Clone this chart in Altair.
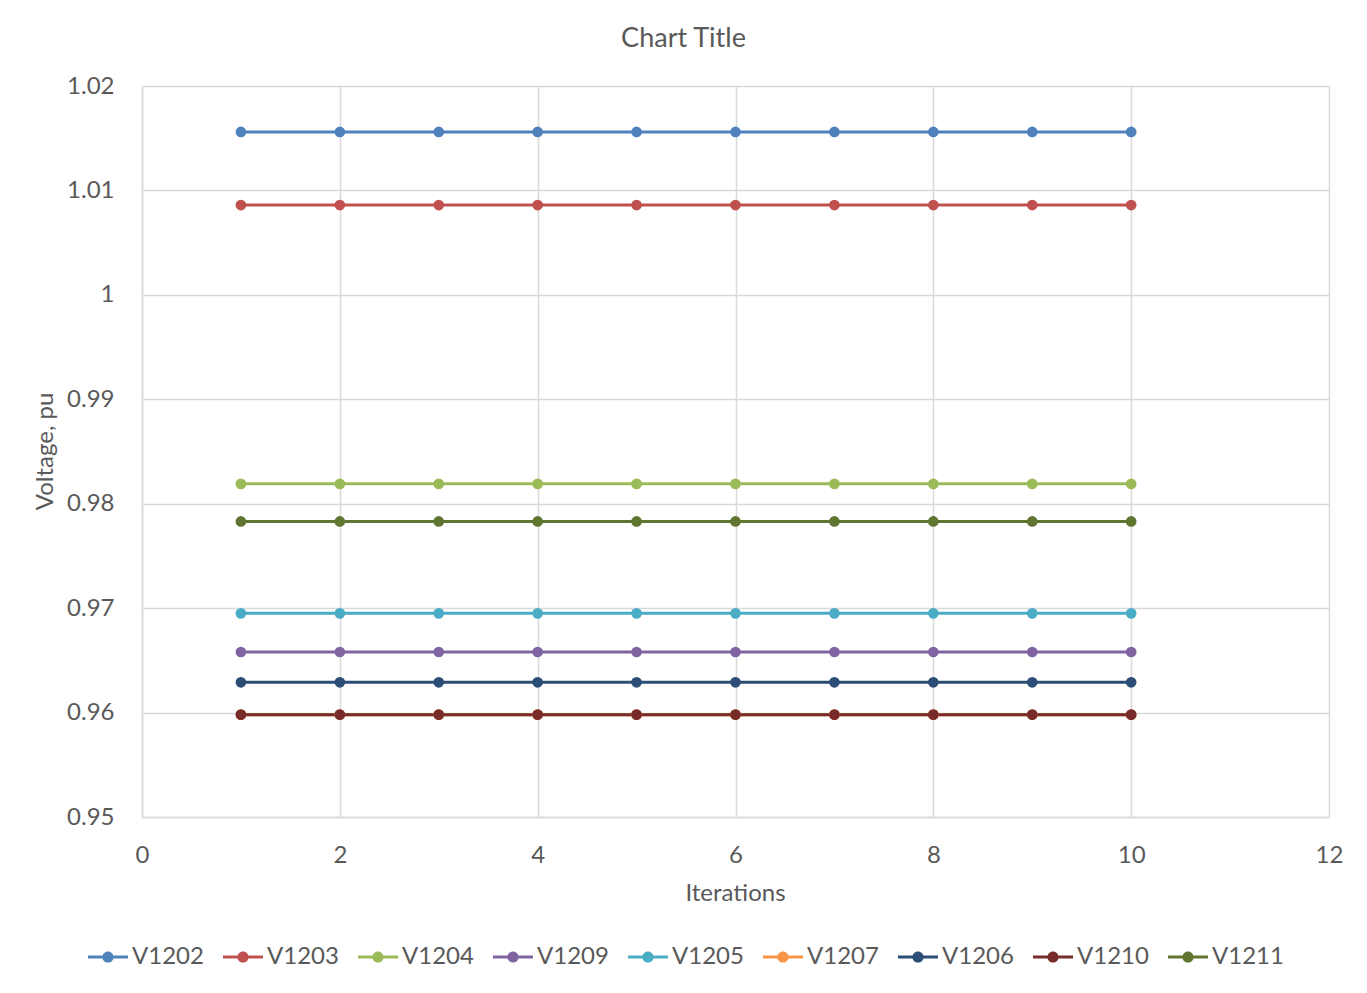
import altair as alt
import pandas as pd

iterations = [1, 2, 3, 4, 5, 6, 7, 8, 9, 10]
series_names = ["V1202", "V1203", "V1204", "V1209", "V1205", "V1207", "V1206", "V1210", "V1211"]
series_colors = ["#4F81BD", "#C0504D", "#9BBB59", "#8064A2", "#4BACC6", "#F79646", "#2C4D75", "#772C2A", "#5F7530"]

V1202 = [1.0156] * 10
V1203 = [1.0086] * 10
V1204 = [0.9819] * 10
V1209 = [0.9658] * 10
V1205 = [0.9695] * 10
V1207 = [0.9598] * 10
V1206 = [0.9629] * 10
V1210 = [0.9598] * 10
V1211 = [0.9783] * 10

series_values = [V1202, V1203, V1204, V1209, V1205, V1207, V1206, V1210, V1211]

y_ticks = [0.95, 0.96, 0.97, 0.98, 0.99, 1.0, 1.01, 1.02]
x_ticks = [0, 2, 4, 6, 8, 10, 12]

rows = []
for order, (name, vals) in enumerate(zip(series_names, series_values)):
    for it, v in zip(iterations, vals):
        rows.append({"series": name, "order": order, "iteration": it, "voltage": v})
df = pd.DataFrame(rows)

FONT = "Lato"
TXT = "#595959"
GRID = "#D9D9D9"

legend_path = ("M-1,-0.075H1V0.075H-1Z "
               "M0.28,0A0.28,0.28 0 1,1 -0.28,0A0.28,0.28 0 1,1 0.28,0Z")

color = alt.Color(
    "series:N",
    scale=alt.Scale(domain=series_names, range=series_colors),
    sort=series_names,
    legend=alt.Legend(
        title=None,
        orient="none",
        legendX=-54,
        legendY=851,
        direction="horizontal",
        columns=9,
        symbolType=legend_path,
        symbolSize=1600,
        symbolStrokeWidth=0,
        symbolOpacity=1,
        labelFont=FONT,
        labelFontSize=24,
        labelColor=TXT,
        labelOffset=4,
        columnPadding=19,
        padding=0,
    ),
)

x = alt.X(
    "iteration:Q",
    scale=alt.Scale(domain=[0, 12], nice=False),
    axis=alt.Axis(
        values=x_ticks,
        title="Iterations",
        titleX=593,
        titleY=76,
        titleBaseline="middle",
        labelPadding=26,
        labelFlush=False,
    ),
)
y = alt.Y(
    "voltage:Q",
    scale=alt.Scale(domain=[0.95, 1.02], nice=False, zero=False),
    axis=alt.Axis(
        values=y_ticks,
        format="~g",
        title="Voltage, pu",
        titleX=-97,
        titleY=365,
        titleAngle=-90,
        titleAlign="center",
        titleBaseline="middle",
        labelPadding=28,
    ),
)

lines = alt.Chart(df).mark_line(strokeWidth=3).encode(
    x=x, y=y, color=color, detail="series:N", order="order:Q"
)
points = alt.Chart(df).mark_circle(size=115, opacity=1).encode(
    x=x, y=y, color=alt.Color("series:N", scale=alt.Scale(domain=series_names, range=series_colors), legend=None),
    order="order:Q",
)

chart = (
    alt.layer(lines, points)
    .properties(
        width=1187,
        height=731,
        title=alt.TitleParams("Chart Title", font=FONT, fontSize=27, fontWeight="normal",
                              color=TXT, anchor="middle", dx=-52, offset=21),
        autosize=alt.AutoSizeParams(type="none"),
        padding={"left": 134, "top": 78, "right": 30, "bottom": 168},
    )
    .configure_view(stroke=None)
    .configure_axis(
        labelFont=FONT,
        labelFontSize=24,
        labelColor=TXT,
        titleFont=FONT,
        titleFontSize=24,
        titleFontWeight="normal",
        titleColor=TXT,
        grid=True,
        gridColor=GRID,
        gridWidth=1.5,
        domainColor=GRID,
        domainWidth=1.5,
        ticks=False,
    )
)

chart.save("out.html", embed_options={"renderer": "svg", "actions": False})
